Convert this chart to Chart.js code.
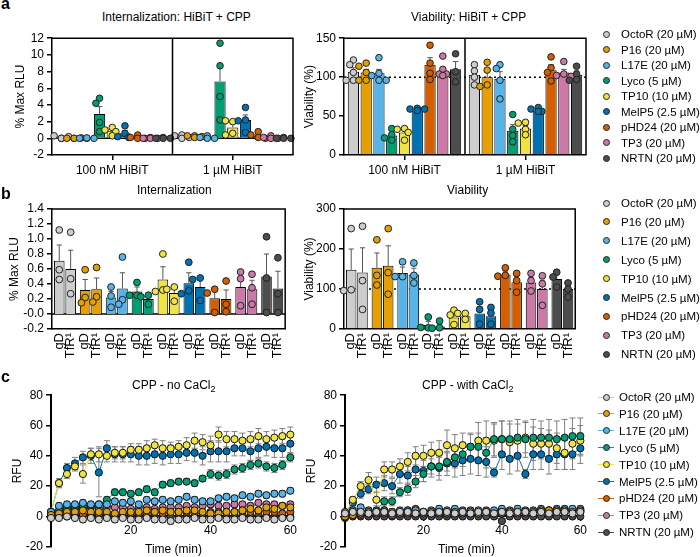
<!DOCTYPE html>
<html>
<head>
<meta charset="utf-8">
<script src="https://cdn.jsdelivr.net/npm/chart.js@4.4.0/dist/chart.umd.min.js"></script>
<style>
body { margin: 0; background: #fff; font-family: "Liberation Sans", Arial, sans-serif; }
#fig { position: relative; width: 700px; height: 557px; overflow: hidden; background: #fff; }
canvas { position: absolute; }
.t { position: absolute; font-size: 12px; line-height: 14px; white-space: nowrap; color: #000; }
.lab { position: absolute; font-size: 16px; line-height: 16px; font-weight: bold; }
.lg { position: absolute; font-size: 11.5px; line-height: 14px; white-space: nowrap; }
.mk { position: absolute; width: 7px; height: 7px; box-sizing: border-box; border: 1px solid #222; border-radius: 50%; }
.ln { position: absolute; height: 1px; }
</style>
</head>
<body>
<div id="fig"></div>
<script>
// Peptides and colours (same order in all panels)
const peptides = ['OctoR (20 µM)', 'P16 (20 µM)', 'L17E (20 µM)', 'Lyco (5 µM)', 'TP10 (10 µM)', 'MelP5 (2.5 µM)', 'pHD24 (20 µM)', 'TP3 (20 µM)', 'NRTN (20 µM)'];
const colors = ['#cdcdcd', '#e69f00', '#56b4e9', '#009e73', '#f0e442', '#0072b2', '#d55e00', '#cc79a7', '#4d4d4d'];

// ---- panel a : HiBiT + CPP ----
const hibitGroups = ['100 nM HiBiT', '1 µM HiBiT'];
const intMean100 = [0.1, 0.02, 0.02, 2.9, 0.9, 0.6, 0.1, 0.03, 0.03];
const intErr100 = [0.1, 0.02, 0.02, 0.9, 0.2, 0.35, 0.1, 0.03, 0.03];
const intPts100 = [[0, 0.3, 0.2, 0], [0, 0, 0.05, 0], [0, 0, 0, 0.05], [4.8, 4.2, 1.9, 0.8], [1.3, 1.0, 0.8, 0.3], [1.5, 0.6, 0.2, 0.1], [0.4, 0.1, 0, 0], [0.1, 0, 0, 0], [0.1, 0, 0, 0]];
const intMean1 = [0.2, 0.2, 0.1, 6.8, 1.3, 2.2, 0.3, 0.1, 0.03];
const intErr1 = [0.1, 0.05, 0.07, 2.0, 0.4, 0.6, 0.15, 0.07, 0.03];
const intPts1 = [[0.4, 0.3, 0.1, 0], [0.3, 0.3, 0.2, 0.1], [0.3, 0.1, 0, 0], [11.4, 8.7, 5.0, 2.2], [2.0, 2.1, 0.6, 0.4], [3.7, 2.2, 2.1, 0.7], [0.8, 0.4, 0.1, 0], [0.3, 0.1, 0, 0], [0.1, 0, 0, 0]];

const viaMean100 = [107, 106, 105, 25, 29, 57, 116, 107, 110];
const viaErr100 = [5, 4, 5, 3, 4, 1, 9, 5, 10];
const viaPts100 = [[122, 116, 106, 96, 96], [118, 114, 106, 96, 96], [125, 105, 102, 96, 96], [34, 26, 22, 19], [34, 33, 29, 19], [60, 59, 59, 57], [141, 118, 105, 97], [127, 110, 104, 104, 102], [130, 107, 94]];
const viaMean1 = [103, 100, 98, 31, 34, 57, 109, 106, 103];
const viaErr1 = [5, 7, 9, 8, 4, 1, 7, 4, 5];
const viaPts1 = [[116, 108, 100, 90], [119, 109, 90, 88], [116, 111, 96, 72], [52, 33, 25, 17], [42, 41, 33, 26], [61, 59, 56, 56], [126, 112, 106, 95], [120, 104, 102, 101], [114, 104, 97, 96]];

// ---- panel b : gD / TfR1 ----
const pairLabels = ['gD', 'TfR¹'];
const bIntGD = [0.71, 0.32, 0.22, 0.30, 0.46, 0.41, 0.21, 0.36, 0.50];
const bIntTfR = [0.60, 0.33, 0.34, 0.20, 0.28, 0.36, 0.20, 0.33, 0.34];
const bIntErrGD = [0.21, 0.14, 0.08, 0.06, 0.17, 0.14, 0.09, 0.13, 0.30];
const bIntErrTfR = [0.25, 0.15, 0.21, 0.04, 0.06, 0.10, 0.12, 0.12, 0.23];
const bIntPtsGD = [[1.12, 0.59, 0.46], [0.59, 0.22, 0.15], [0.36, 0.24, 0.09], [0.42, 0.25, 0.25], [0.80, 0.32, 0.30], [0.69, 0.31, 0.27], [0.33, 0.28, 0.02], [0.56, 0.47, 0.11], [1.03, 0.48, 0.02]];
const bIntPtsTfR = [[1.09, 0.47, 0.27], [0.62, 0.23, 0.16], [0.76, 0.19, 0.13], [0.25, 0.23, 0.13], [0.36, 0.33, 0.17], [0.48, 0.46, 0.18], [0.44, 0.13, 0.03], [0.53, 0.35, 0.13], [0.75, 0.27, 0.02]];

const bViaGD = [148, 153, 140, 10, 29, 39, 136, 116, 125];
const bViaTfR = [141, 158, 136, 6, 32, 32, 117, 100, 100];
const bViaErrGD = [52, 37, 15, 9, 11, 17, 7, 13, 15];
const bViaErrTfR = [62, 50, 16, 6, 5, 13, 14, 22, 16];
const bViaPtsGD = [[251, 98, 96], [223, 134, 110], [168, 131, 131], [30, 3, 4], [47, 35, 11], [68, 49, 12], [153, 134, 132], [139, 121, 95], [142, 130, 105]];
const bViaPtsTfR = [[257, 121, 49], [251, 141, 87], [165, 134, 115], [20, 3, 2], [39, 39, 24], [54, 40, 12], [139, 121, 92], [133, 113, 59], [115, 100, 80]];

// ---- panel c : calcein kinetics ----
const times = [0, 2, 4, 6, 8, 10, 12, 14, 16, 18, 20, 22, 24, 26, 28, 30, 32, 34, 36, 38, 40, 42, 44, 46, 48, 50, 52, 54, 56, 58, 60];

const noCaOctoR = [-1, -1, 0, -1, -2, -1, -2, -1, -2, -1, -2, -2, -1, -2, -2, -3, -2, -2, -1, -2, -2, -1, -2, -2, -1, -2, -2, -1, -2, -1, -1];
const noCaP16 = [1, 2, 3, 3, 4, 3, 3, 3, 2, 3, 3, 3, 4, 3, 4, 3, 3, 4, 4, 3, 2, 2, 3, 3, 4, 5, 4, 6, 5, 7, 6];
const noCaL17E = [3, 7, 8, 8, 9, 8, 8, 8, 10, 9, 10, 8, 11, 10, 11, 10, 11, 13, 11, 10, 10, 12, 13, 12, 14, 13, 15, 14, 15, 15, 17];
const noCaLyco = [3, 5, 6, 6, 7, 7, 8, 11, 16, 16, 15, 16, 18, 16, 21, 22, 23, 23, 22, 25, 28, 27, 28, 31, 32, 34, 35, 33, 32, 34, 39];
const noCaTP10 = [3, 22, 28, 33, 28, 41, 41, 40, 42, 42, 44, 44, 45, 47, 45, 45, 46, 47, 50, 49, 47, 54, 51, 51, 50, 51, 53, 51, 52, 53, 54];
const noCaMelP5 = [3, 22, 32, 35, 39, 40, 29, 45, 41, 41, 41, 40, 40, 41, 40, 41, 41, 42, 42, 40, 43, 43, 43, 45, 45, 43, 45, 46, 45, 45, 48];
const noCaPHD24 = [0, 1, 1, 2, 1, 2, 1, 2, 2, 2, 2, 2, 2, 3, 2, 3, 3, 3, 2, 2, 3, 3, 3, 3, 4, 3, 4, 3, 3, 2, 3];
const noCaTP3 = [1, 3, 4, 5, 5, 6, 5, 6, 6, 6, 5, 6, 6, 5, 6, 6, 6, 7, 6, 7, 8, 7, 7, 8, 8, 7, 9, 8, 8, 7, 8];
const noCaNRTN = [0, 0, 0, 0, 1, 0, 0, 0, 0, 0, 0, 0, 0, 0, 0, 0, 0, 0, 0, 0, 0, 0, 0, 0, 1, 0, 1, 0, 0, 0, 0];

const noCaErrOctoR = [1, 1, 1, 1, 2, 1, 2, 1, 2, 1, 2, 2, 1, 2, 2, 2, 2, 2, 1, 2, 2, 1, 2, 2, 1, 2, 2, 1, 2, 1, 1];
const noCaErrP16 = [1, 1, 1, 1, 1, 1, 1, 1, 1, 1, 1, 1, 1, 1, 1, 1, 1, 1, 1, 1, 1, 1, 1, 1, 1, 1, 1, 2, 2, 2, 2];
const noCaErrL17E = [1, 2, 2, 2, 2, 2, 2, 2, 2, 2, 2, 2, 2, 2, 2, 2, 2, 2, 2, 2, 2, 2, 2, 2, 2, 2, 2, 2, 2, 2, 2];
const noCaErrLyco = [1, 1, 2, 2, 2, 2, 2, 2, 2, 2, 2, 2, 2, 2, 2, 2, 2, 2, 2, 2, 3, 3, 3, 3, 3, 3, 3, 3, 3, 3, 3];
const noCaErrTP10 = [1, 3, 3, 3, 6, 4, 5, 4, 4, 4, 4, 4, 5, 4, 5, 4, 4, 5, 5, 5, 6, 5, 5, 5, 5, 5, 5, 5, 5, 5, 5];
const noCaErrMelP5 = [1, 3, 3, 4, 4, 5, 16, 5, 5, 5, 5, 6, 6, 6, 6, 6, 6, 5, 6, 6, 7, 7, 7, 5, 5, 6, 6, 6, 6, 6, 6];
const noCaErrPHD24 = [1, 1, 1, 1, 1, 1, 1, 1, 1, 1, 1, 1, 1, 1, 1, 1, 1, 1, 1, 1, 1, 1, 1, 1, 1, 1, 1, 1, 1, 1, 1];
const noCaErrTP3 = [1, 1, 1, 1, 1, 1, 1, 1, 1, 1, 1, 1, 1, 1, 1, 1, 1, 1, 1, 1, 2, 2, 2, 2, 2, 2, 2, 2, 2, 2, 2];
const noCaErrNRTN = [1, 1, 1, 1, 1, 1, 1, 1, 1, 1, 1, 1, 1, 1, 1, 1, 1, 1, 1, 1, 1, 1, 1, 1, 1, 1, 1, 1, 1, 1, 1];

const caOctoR = [2, 3, 3, 2, 3, 3, 2, 3, 3, 2, 3, 2, 3, 3, 2, 3, 2, 3, 3, 2, 3, 2, 3, 3, 2, 3, 2, 3, 3, 2, 3];
const caP16 = [0, 1, 2, 3, 3, 3, 3, 2, 3, 2, 3, 3, 3, 2, 3, 3, 3, 2, 3, 2, 3, 3, 3, 3, 3, 4, 4, 4, 4, 3, 4];
const caL17E = [3, 4, 6, 4, 3, 4, 3, 4, 4, 4, 3, 4, 5, 4, 5, 4, 4, 4, 4, 4, 5, 4, 5, 4, 4, 5, 4, 5, 5, 5, 5];
const caLyco = [1, 2, 3, 3, 4, 10, 10, 16, 18, 23, 28, 33, 33, 36, 39, 41, 46, 46, 42, 51, 51, 51, 52, 51, 52, 52, 52, 51, 52, 53, 53];
const caTP10 = [2, 11, 20, 24, 11, 31, 31, 33, 36, 40, 40, 42, 42, 47, 45, 47, 46, 50, 50, 50, 51, 49, 50, 52, 48, 48, 48, 45, 42, 48, 50];
const caMelP5 = [2, 9, 15, 18, 21, 22, 20, 28, 27, 31, 30, 33, 32, 35, 35, 37, 38, 37, 36, 29, 41, 38, 40, 28, 41, 41, 38, 41, 41, 41, 45];
const caPHD24 = [0, 1, 2, 3, 3, 4, 3, 3, 4, 5, 3, 3, 4, 3, 3, 3, 3, 2, 3, 3, 4, 3, 3, 3, 3, 4, 4, 3, 4, 4, 4];
const caTP3 = [0, 1, 1, 2, 2, 2, 1, 2, 2, 2, 2, 2, 2, 2, 2, 2, 2, 2, 3, 2, 2, 3, 2, 2, 3, 3, 3, 3, 3, 3, 3];
const caNRTN = [-1, 0, 0, 0, 0, 0, 0, 0, 0, 0, 0, 0, 0, 0, 0, 0, 0, 0, 0, 0, -3, 0, 0, 0, 0, 0, 0, 0, 0, 0, 0];

const caErrOctoR = [2, 2, 2, 2, 2, 2, 2, 2, 2, 2, 2, 2, 2, 2, 2, 2, 2, 2, 2, 2, 2, 2, 2, 2, 2, 2, 2, 2, 2, 2, 2];
const caErrP16 = [1, 1, 1, 1, 1, 1, 1, 1, 1, 1, 1, 1, 1, 1, 1, 1, 1, 1, 1, 1, 1, 1, 1, 1, 1, 1, 1, 1, 1, 1, 1];
const caErrL17E = [1, 2, 2, 2, 2, 2, 2, 2, 2, 2, 2, 2, 2, 2, 2, 2, 2, 2, 2, 2, 2, 2, 2, 2, 2, 2, 2, 2, 2, 2, 2];
const caErrLyco = [1, 1, 2, 2, 3, 3, 3, 3, 4, 4, 5, 5, 6, 6, 7, 8, 8, 9, 10, 11, 12, 12, 12, 12, 12, 11, 12, 12, 12, 12, 12];
const caErrTP10 = [1, 2, 3, 5, 5, 5, 5, 5, 6, 6, 7, 7, 8, 10, 9, 8, 9, 12, 13, 11, 12, 12, 11, 10, 11, 10, 9, 10, 11, 10, 10];
const caErrMelP5 = [1, 2, 3, 3, 5, 5, 5, 6, 6, 7, 7, 7, 8, 8, 9, 10, 10, 10, 10, 3, 10, 10, 10, 3, 10, 10, 10, 10, 10, 10, 10];
const caErrPHD24 = [1, 1, 1, 1, 1, 1, 1, 1, 1, 1, 1, 1, 1, 1, 1, 1, 1, 1, 1, 1, 1, 1, 1, 1, 1, 1, 1, 1, 1, 1, 1];
const caErrTP3 = [1, 1, 1, 1, 1, 1, 1, 1, 1, 1, 1, 1, 1, 1, 1, 1, 1, 1, 1, 1, 1, 1, 1, 1, 1, 1, 1, 1, 1, 1, 1];
const caErrNRTN = [1, 1, 1, 1, 1, 1, 1, 1, 1, 1, 1, 1, 1, 1, 1, 1, 1, 1, 1, 1, 2, 1, 1, 1, 1, 1, 1, 1, 1, 1, 1];

const noCaSeries = [noCaOctoR, noCaP16, noCaL17E, noCaLyco, noCaTP10, noCaMelP5, noCaPHD24, noCaTP3, noCaNRTN];
const noCaErrs = [noCaErrOctoR, noCaErrP16, noCaErrL17E, noCaErrLyco, noCaErrTP10, noCaErrMelP5, noCaErrPHD24, noCaErrTP3, noCaErrNRTN];
const caSeries = [caOctoR, caP16, caL17E, caLyco, caTP10, caMelP5, caPHD24, caTP3, caNRTN];
const caErrs = [caErrOctoR, caErrP16, caErrL17E, caErrLyco, caErrTP10, caErrMelP5, caErrPHD24, caErrTP3, caErrNRTN];

Chart.defaults.font.family = '"Liberation Sans", Arial, sans-serif';
Chart.defaults.font.size = 12;
Chart.defaults.color = '#000';

const fig = document.getElementById('fig');

function addCanvas(left, top, w, h) {
    const c = document.createElement('canvas');
    c.width = w; c.height = h;
    c.style.left = left + 'px'; c.style.top = top + 'px';
    c.style.width = w + 'px'; c.style.height = h + 'px';
    fig.appendChild(c);
    return c;
}

function addText(html, left, top, cls) {
    const d = document.createElement('div');
    d.className = cls || 't';
    d.style.left = left + 'px'; d.style.top = top + 'px';
    d.innerHTML = html;
    fig.appendChild(d);
}

// spread points sideways when they overlap (simple beeswarm)
function swarm(x, ys, r) {
    const placed = [];
    ys.forEach(y => {
        const cands = [0, -1, 1, -2, 2].map(k => x + k * r * 1.1);
        let best = cands[0];
        for (const cx of cands) {
            if (placed.every(p => Math.hypot(p.x - cx, p.y - y) >= r * 1.6)) { best = cx; break; }
        }
        placed.push({ x: best, y });
    });
    return placed;
}

// error bars, individual points, reference lines and plot box for the bar charts
const barExtras = {
    id: 'barExtras',
    beforeDatasetsDraw(chart, args, o) {
        const { ctx, chartArea: a, scales: { y } } = chart;
        ctx.save();
        ctx.strokeStyle = '#000';
        if (o.dashAt != null) {
            const py = y.getPixelForValue(o.dashAt);
            ctx.setLineDash([2, 3]); ctx.lineWidth = 1.5;
            ctx.beginPath(); ctx.moveTo(a.left, py); ctx.lineTo(a.right, py); ctx.stroke();
            ctx.setLineDash([]);
        }
        if (y.min < 0) {
            const py = y.getPixelForValue(0);
            ctx.lineWidth = 1.5;
            ctx.beginPath(); ctx.moveTo(a.left, py); ctx.lineTo(a.right, py); ctx.stroke();
        }
        ctx.restore();
    },
    afterDatasetsDraw(chart, args, o) {
        const { ctx, chartArea: a, scales: { x, y } } = chart;
        ctx.save();
        // error bars (mean + SEM)
        ctx.strokeStyle = '#555'; ctx.lineWidth = 1;
        chart.data.datasets.forEach((ds, di) => {
            chart.getDatasetMeta(di).data.forEach((bar, j) => {
                const top = y.getPixelForValue(ds.data[j] + ds.err[j]);
                const cw = bar.width * 0.25;
                ctx.beginPath();
                ctx.moveTo(bar.x, bar.y); ctx.lineTo(bar.x, top);
                ctx.moveTo(bar.x - cw, top); ctx.lineTo(bar.x + cw, top);
                ctx.stroke();
            });
        });
        // replicate points
        ctx.strokeStyle = '#222'; ctx.lineWidth = 1;
        chart.data.datasets.forEach((ds, di) => {
            chart.getDatasetMeta(di).data.forEach((bar, j) => {
                const col = Array.isArray(ds.backgroundColor) ? ds.backgroundColor[j] : ds.backgroundColor;
                swarm(bar.x, ds.pts[j].map(v => y.getPixelForValue(v)), o.r).forEach(p => {
                    ctx.beginPath(); ctx.arc(p.x, p.y, o.r, 0, Math.PI * 2);
                    ctx.fillStyle = col; ctx.fill(); ctx.stroke();
                });
            });
        });
        // box
        ctx.strokeStyle = '#000'; ctx.lineWidth = 1.5;
        ctx.beginPath();
        ctx.moveTo(a.left, a.top); ctx.lineTo(a.right, a.top); ctx.lineTo(a.right, a.bottom);
        if (o.divider) {
            const mx = (x.getPixelForValue(0) + x.getPixelForValue(1)) / 2;
            ctx.moveTo(mx, a.top); ctx.lineTo(mx, a.bottom);
        }
        ctx.stroke();
        ctx.restore();
    }
};

function yAxis(min, max, step, title, width, titlePad, fmt) {
    return {
        min: min, max: max,
        border: { display: true, color: '#000', width: 1.5 },
        grid: { display: true, drawOnChartArea: false, drawTicks: true, tickLength: 5, color: '#000', lineWidth: 1.5 },
        ticks: { stepSize: step, padding: 3, autoSkip: false, callback: fmt || (v => v) },
        title: { display: true, text: title, padding: titlePad, font: { size: 12 } },
        afterFit: s => { s.width = width; }
    };
}

function baseOptions(pad, scales, extras) {
    return {
        responsive: false, animation: false, devicePixelRatio: 1,
        layout: { padding: pad },
        plugins: { legend: { display: false }, tooltip: { enabled: false }, barExtras: extras },
        scales: scales
    };
}

// panel a chart: two HiBiT groups, one dataset per peptide
function hibitChart(left, m100, m1, e100, e1, p100, p1, yOpts, extras) {
    const cv = addCanvas(left, 28, 300, 160);
    return new Chart(cv, {
        type: 'bar',
        data: {
            labels: hibitGroups,
            datasets: peptides.map((name, p) => ({
                label: name,
                data: [m100[p], m1[p]],
                err: [e100[p], e1[p]],
                pts: [p100[p], p1[p]],
                backgroundColor: colors[p],
                borderColor: '#000', borderWidth: 1,
                categoryPercentage: 0.95, barPercentage: 0.88
            }))
        },
        options: baseOptions({ top: 6, right: left === 0 ? 7 : 4 }, {
            x: {
                border: { display: true, color: '#000', width: 1.5 },
                grid: { display: true, drawOnChartArea: false, tickLength: 5, color: '#000', lineWidth: 1.5, offset: false },
                ticks: { padding: 3 },
                afterFit: s => { s.height = 33; }
            },
            y: yOpts
        }, extras),
        plugins: [barExtras]
    });
}

// panel b chart: gD / TfR1 pairs for each peptide
function pairChart(left, gd, tfr, egd, etfr, pgd, ptfr, yOpts, extras) {
    const cv = addCanvas(left, 195, 300, 180);
    return new Chart(cv, {
        type: 'bar',
        data: {
            labels: peptides.map(() => pairLabels),
            datasets: [
                { label: 'gD', data: gd, err: egd, pts: pgd, backgroundColor: colors, borderColor: '#000', borderWidth: 1, categoryPercentage: 0.88, barPercentage: 0.93 },
                { label: 'TfR¹', data: tfr, err: etfr, pts: ptfr, backgroundColor: colors, borderColor: '#000', borderWidth: 1, categoryPercentage: 0.88, barPercentage: 0.93 }
            ]
        },
        options: baseOptions({ top: 14, right: left === 0 ? 7 : 4 }, {
            x: {
                border: { display: true, color: '#000', width: 1.5 },
                grid: { display: false, drawTicks: false },
                ticks: { autoSkip: false, minRotation: 90, maxRotation: 90, labelOffset: -6, padding: 4, font: { size: 13, lineHeight: 0.9 } },
                afterFit: s => { s.height = 46; }
            },
            y: yOpts
        }, extras),
        plugins: [barExtras]
    });
}

// error bars for the kinetic traces
const lineErrors = {
    id: 'lineErrors',
    beforeDatasetsDraw(chart) {
        const { ctx, scales: { x, y } } = chart;
        ctx.save();
        ctx.strokeStyle = '#808080'; ctx.lineWidth = 1;
        chart.data.datasets.forEach(ds => {
            ds.err.forEach((e, i) => {
                const px = x.getPixelForValue(ds.data[i].x);
                const lo = y.getPixelForValue(ds.data[i].y - e);
                const hi = y.getPixelForValue(ds.data[i].y + e);
                ctx.beginPath();
                ctx.moveTo(px, lo); ctx.lineTo(px, hi);
                ctx.moveTo(px - 3, lo); ctx.lineTo(px + 3, lo);
                ctx.moveTo(px - 3, hi); ctx.lineTo(px + 3, hi);
                ctx.stroke();
            });
        });
        ctx.restore();
    }
};

function kineticChart(left, series, errs, yw, right, titlePad) {
    const cv = addCanvas(left, 385, 300, 172);
    return new Chart(cv, {
        type: 'line',
        data: {
            datasets: peptides.map((name, p) => ({
                label: name,
                data: times.map((t, i) => ({ x: t, y: series[p][i] })),
                err: errs[p],
                borderColor: colors[p], backgroundColor: colors[p], borderWidth: 1,
                pointRadius: 3.6, pointBackgroundColor: colors[p], pointBorderColor: '#111', pointBorderWidth: 1,
                tension: 0, clip: false
            }))
        },
        options: {
            responsive: false, animation: false, devicePixelRatio: 1,
            layout: { padding: { top: 10, bottom: 9, right: right } },
            plugins: { legend: { display: false }, tooltip: { enabled: false } },
            scales: {
                x: {
                    type: 'linear', position: { y: 0 }, min: 0, max: 60,
                    border: { display: true, color: '#000', width: 2 },
                    grid: { display: true, drawOnChartArea: false, tickLength: 4, color: '#000', lineWidth: 1.5 },
                    ticks: { stepSize: 20, padding: 3, callback: v => (v === 0 ? '' : v) }
                },
                y: {
                    min: -20, max: 80,
                    border: { display: true, color: '#000', width: 2 },
                    grid: { display: true, drawOnChartArea: false, tickLength: 5, color: '#000', lineWidth: 1.5 },
                    ticks: { stepSize: 20, padding: 3, autoSkip: false },
                    title: { display: true, text: 'RFU', padding: titlePad },
                    afterFit: s => { s.width = yw; }
                }
            }
        },
        plugins: [lineErrors]
    });
}

// ---- build panels ----
hibitChart(0, intMean100, intMean1, intErr100, intErr1, intPts100, intPts1,
    yAxis(-2, 12, 2, '% Max RLU', 52, 13), { r: 3.3, divider: true });
hibitChart(290, viaMean100, viaMean1, viaErr100, viaErr1, viaPts100, viaPts1,
    yAxis(0, 150, 50, 'Viability (%)', 54, 12), { r: 3.3, divider: true, dashAt: 100 });

pairChart(0, bIntGD, bIntTfR, bIntErrGD, bIntErrTfR, bIntPtsGD, bIntPtsTfR,
    yAxis(-0.2, 1.4, 0.2, '% Max RLU', 52, 7, v => v.toFixed(1)), { r: 3.4 });
pairChart(290, bViaGD, bViaTfR, bViaErrGD, bViaErrTfR, bViaPtsGD, bViaPtsTfR,
    yAxis(0, 300, 100, 'Viability (%)', 54, 12), { r: 3.4, dashAt: 100 });

kineticChart(0, noCaSeries, noCaErrs, 51, 7, 10);
kineticChart(290, caSeries, caErrs, 55, 3, 14);

// ---- texts ----
addText('a', 1, -4, 'lab');
addText('b', 1, 186, 'lab');
addText('c', 1, 369, 'lab');
addText('Internalization: HiBiT + CPP', 102, 10);
addText('Viability: HiBiT + CPP', 411, 10);
addText('Internalization', 137, 183);
addText('Viability', 447, 183);
addText('CPP - no CaCl<sub style="font-size:9px;line-height:0">2</sub>', 132, 378);
addText('CPP - with CaCl<sub style="font-size:9px;line-height:0">2</sub>', 422, 378);
addText('Time (min)', 145, 542);
addText('Time (min)', 438, 542);

// ---- legends ----
function addLegend(first, step, withLine) {
    peptides.forEach((name, p) => {
        const cy = first + step * p;
        if (withLine) {
            const l = document.createElement('div');
            l.className = 'ln';
            l.style.left = '598px'; l.style.top = (cy - 0.5) + 'px'; l.style.width = '16px';
            l.style.background = colors[p];
            fig.appendChild(l);
        }
        const m = document.createElement('div');
        m.className = 'mk';
        m.style.left = (606 - 3.5) + 'px'; m.style.top = (cy - 3.5) + 'px';
        m.style.background = colors[p];
        fig.appendChild(m);
        addText(name, withLine ? 619 : 621, cy - 7, 'lg');
    });
}
addLegend(34.3, 15.5, false);
addLegend(203, 18.9, false);
addLegend(397, 16.9, true);
</script>
</body>
</html>
